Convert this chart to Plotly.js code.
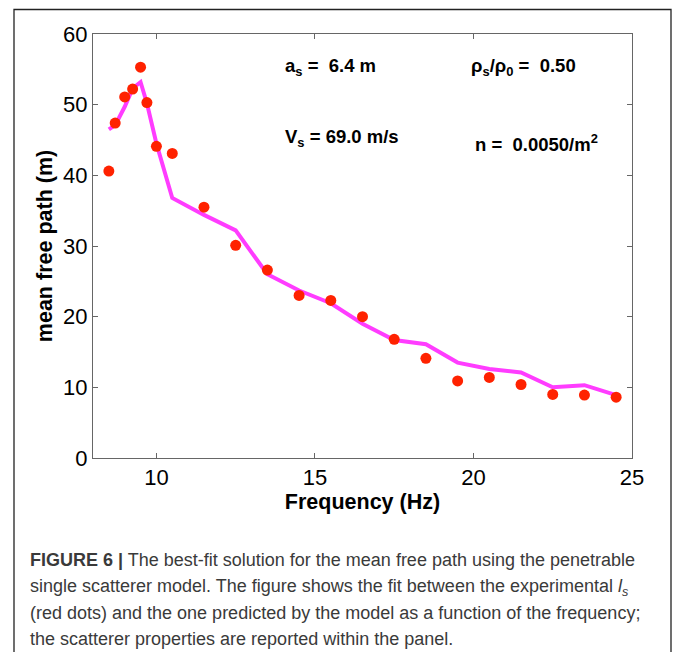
<!DOCTYPE html>
<html>
<head>
<meta charset="utf-8">
<script src="https://cdn.plot.ly/plotly-3.0.1.min.js"></script>
<style>html,body{margin:0;padding:0;background:#fff;}#chart{width:673px;height:652px;}</style>
</head>
<body>
<div id="chart"></div>
<script>
// Data
const freqObs = [8.5, 8.7, 9.0, 9.25, 9.5, 9.7, 10.0, 10.5, 11.5, 12.5, 13.5, 14.5, 15.5, 16.5, 17.5, 18.5, 19.5, 20.5, 21.5, 22.5, 23.5, 24.5];
const mfpObs  = [40.6, 47.4, 51.1, 52.2, 55.3, 50.3, 44.1, 43.1, 35.5, 30.1, 26.6, 23.0, 22.3, 20.0, 16.8, 14.1, 10.9, 11.4, 10.4, 9.0, 8.9, 8.6];
const freqModel = [8.5, 8.7, 9.0, 9.25, 9.5, 9.7, 10.0, 10.5, 11.5, 12.5, 13.5, 14.5, 15.5, 16.5, 17.5, 18.5, 19.5, 20.5, 21.5, 22.5, 23.5, 24.5];
const mfpModel  = [46.5, 47.1, 49.7, 52.3, 53.2, 50.2, 44.5, 36.8, 34.4, 32.2, 26.0, 23.7, 21.9, 19.0, 16.7, 16.1, 13.5, 12.6, 12.1, 10.0, 10.3, 8.9];
const xTicks = [10, 15, 20, 25];
const yTicks = [0, 10, 20, 30, 40, 50, 60];
const xTitle = 'Frequency (Hz)';
const yTitle = 'mean free path (m)';
const params = [
  'a<sub>s</sub> =\u00a0 6.4 m',
  '\u03c1<sub>s</sub>/\u03c1<sub>0</sub> =\u00a0 0.50',
  'V<sub>s</sub> = 69.0 m/s',
  'n =\u00a0 0.0050/m<sup>2</sup>'
];
const captionLines = [
  '<b>FIGURE 6 |</b> The best-fit solution for the mean free path using the penetrable',
  'single scatterer model. The figure shows the fit between the experimental <i>l<sub>s</sub></i>',
  '(red dots) and the one predicted by the model as a function of the frequency;',
  'the scatterer properties are reported within the panel.'
];

// layout geometry
const W = 673, H = 652;
const M = {l: 93, r: 41, t: 34, b: 194};
const pw = W - M.l - M.r, ph = H - M.t - M.b;
const px = x => (x - M.l) / pw;
const py = y => (H - M.b - y) / ph;

const sans = '"Liberation Sans", Arial, Helvetica, sans-serif';

const traces = [
  {x: freqModel, y: mfpModel, type: 'scatter', mode: 'lines',
   line: {color: '#ff3cff', width: 4}, hoverinfo: 'skip'},
  {x: freqObs, y: mfpObs, type: 'scatter', mode: 'markers',
   marker: {color: '#ff2200', size: 11}, hoverinfo: 'skip'}
];

const paramPos = [[283, 67], [469, 67], [283, 138], [473, 143]];
const annotations = params.map((t, i) => ({
  text: t, xref: 'paper', yref: 'paper', x: px(paramPos[i][0]), y: py(paramPos[i][1]),
  xanchor: 'left', yanchor: 'middle', showarrow: false,
  font: {family: sans, size: 18.5, color: '#000', weight: 'bold'}
}));
const capY = [560, 587, 613, 639];
captionLines.forEach((t, i) => annotations.push({
  text: t, xref: 'paper', yref: 'paper', x: px(28), y: py(capY[i]),
  xanchor: 'left', yanchor: 'middle', showarrow: false,
  font: {family: sans, size: 18, color: '#3a3a3a'}
}));

const layout = {
  width: W, height: H,
  margin: M,
  paper_bgcolor: '#fff', plot_bgcolor: '#fff',
  showlegend: false,
  xaxis: {
    range: [8, 25], tickvals: xTicks, ticktext: xTicks.map(String),
    ticks: 'inside', ticklen: 5, tickcolor: '#666', showline: true, linecolor: '#666', linewidth: 1,
    mirror: 'ticks', showgrid: false, zeroline: false,
    tickfont: {family: sans, size: 22, color: '#000'},
    title: {text: xTitle, font: {family: sans, size: 21.5, color: '#000', weight: 'bold'}, standoff: 3}
  },
  yaxis: {
    range: [0, 60], tickvals: yTicks, ticktext: yTicks.map(String),
    ticks: 'inside', ticklen: 5, tickcolor: '#666', showline: true, linecolor: '#666', linewidth: 1,
    mirror: 'ticks', showgrid: false, zeroline: false,
    tickfont: {family: sans, size: 22, color: '#000'},
    title: {text: yTitle, font: {family: sans, size: 21.5, color: '#000', weight: 'bold'}, standoff: 4}
  },
  shapes: [{
    type: 'rect', xref: 'paper', yref: 'paper',
    x0: px(14), x1: px(671), y0: py(680), y1: py(9.5),
    line: {color: '#222', width: 1.3}, fillcolor: 'rgba(0,0,0,0)', layer: 'above'
  }],
  annotations: annotations
};

Plotly.newPlot('chart', traces, layout, {displayModeBar: false, staticPlot: true});
</script>
</body>
</html>
